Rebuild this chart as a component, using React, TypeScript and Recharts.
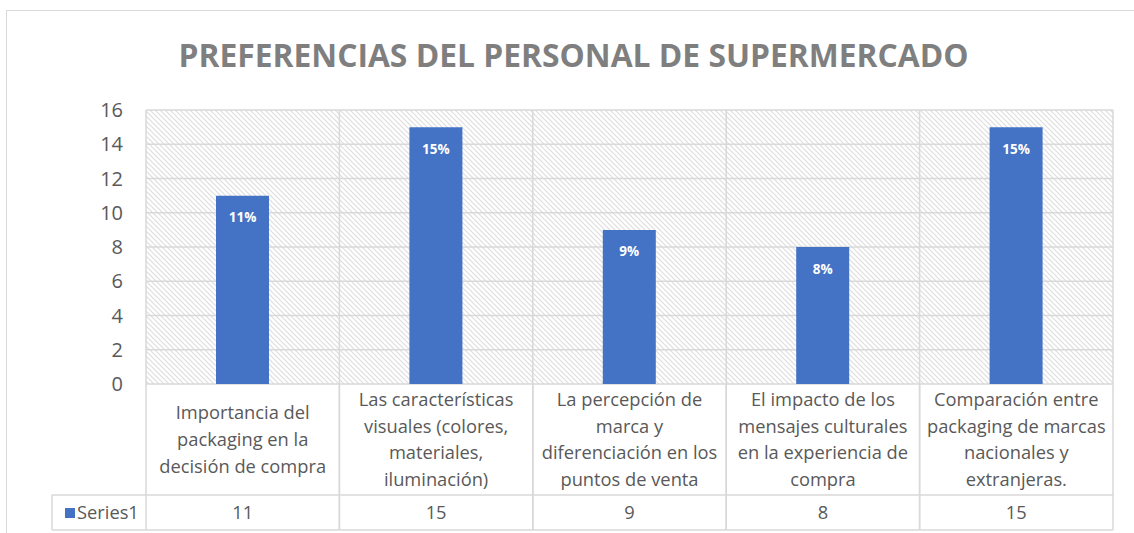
import React from 'react';
import { BarChart, Bar, XAxis, YAxis, CartesianGrid, LabelList } from 'recharts';

const categoryLines: string[][] = [
  ['Importancia del', 'packaging en la', 'decisión de compra'],
  ['Las características', 'visuales (colores,', 'materiales,', 'iluminación)'],
  ['La percepción de', 'marca y', 'diferenciación en los', 'puntos de venta'],
  ['El impacto de los', 'mensajes culturales', 'en la experiencia de', 'compra'],
  ['Comparación entre', 'packaging de marcas', 'nacionales y', 'extranjeras.'],
];
const seriesName = 'Series1';
const seriesValues = [11, 15, 9, 8, 15];
const yTicks = [0, 2, 4, 6, 8, 10, 12, 14, 16];
const title = 'PREFERENCIAS DEL PERSONAL DE SUPERMERCADO';

const data = categoryLines.map((lines, i) => ({
  name: lines.join(' '),
  value: seriesValues[i],
}));

// layout
const W = 1134;
const H = 533;
const PLOT_L = 146;
const PLOT_R = 1113;
const PLOT_T = 110;
const PLOT_B = 384;
const ROW1_B = 495;
const TABLE_B = 530;
const LEGEND_L = 52;
const CELL_W = (PLOT_R - PLOT_L) / categoryLines.length;

const FONT = '"Open Sans", sans-serif';
const GRID = '#d9d9d9';
const TEXT = '#595959';
const BLUE = '#4472c4';
const TABLE_FONT = 18.3;

const TableTick = (props: any) => {
  const { x, index } = props;
  const lines = categoryLines[index] || [];
  const lh = 26.6;
  const mid = (PLOT_B + ROW1_B) / 2;
  const first = mid - ((lines.length - 1) * lh) / 2;
  const left = x - CELL_W / 2;
  const right = x + CELL_W / 2;
  return (
    <g>
      {index === 0 && (
        <g>
          <line x1={LEGEND_L} x2={left} y1={ROW1_B} y2={ROW1_B} stroke={GRID} strokeWidth={1.5} />
          <line x1={LEGEND_L} x2={left} y1={TABLE_B} y2={TABLE_B} stroke={GRID} strokeWidth={1.5} />
          <line x1={LEGEND_L} x2={LEGEND_L} y1={ROW1_B} y2={TABLE_B} stroke={GRID} strokeWidth={1.5} />
          <rect x={65} y={508} width={10} height={10} fill={BLUE} />
          <text x={77} y={519} fontSize={TABLE_FONT} fill={TEXT} fontFamily={FONT}>
            {seriesName}
          </text>
        </g>
      )}
      <line x1={left} x2={left} y1={PLOT_B} y2={TABLE_B} stroke={GRID} strokeWidth={1.5} />
      <line x1={right} x2={right} y1={PLOT_B} y2={TABLE_B} stroke={GRID} strokeWidth={1.5} />
      <line x1={left} x2={right} y1={ROW1_B} y2={ROW1_B} stroke={GRID} strokeWidth={1.5} />
      <line x1={left} x2={right} y1={TABLE_B} y2={TABLE_B} stroke={GRID} strokeWidth={1.5} />
      {lines.map((l, i) => (
        <text
          key={i}
          x={x}
          y={first + i * lh}
          dy="0.35em"
          textAnchor="middle"
          fontSize={TABLE_FONT}
          fill={TEXT}
          fontFamily={FONT}
        >
          {l}
        </text>
      ))}
      <text x={x} y={512.5} dy="0.35em" textAnchor="middle" fontSize={TABLE_FONT} fill={TEXT} fontFamily={FONT}>
        {seriesValues[index]}
      </text>
    </g>
  );
};

export default function App() {
  return (
    <div style={{ position: 'absolute', left: 0, top: 0, width: W, height: H, overflow: 'hidden', background: '#fff' }}>
      <div
        style={{
          position: 'absolute',
          left: 6,
          top: 10,
          width: W + 20,
          height: H + 20,
          border: `1.5px solid ${GRID}`,
          boxSizing: 'border-box',
        }}
      />
      <svg width={W} height={100} style={{ position: 'absolute', left: 0, top: 0 }}>
        <text x={573.5} y={67} textAnchor="middle" fontSize={31.8} fontWeight="bold" fill="#7f7f7f" fontFamily={FONT}>
          {title}
        </text>
      </svg>
      <div style={{ position: 'absolute', left: 0, top: 0 }}>
        <BarChart
          width={W}
          height={H}
          data={data}
          margin={{ top: PLOT_T, right: W - PLOT_R, bottom: 0, left: 0 }}
        >
          <defs>
            <pattern id="hatch" patternUnits="userSpaceOnUse" width={5} height={5}>
              <rect width={5} height={5} fill="#ffffff" />
              <path d="M-1,-1 L6,6 M-1,4 L1,6 M4,-1 L6,1" stroke="#dedede" strokeWidth={1.2} />
            </pattern>
          </defs>
          <CartesianGrid
            fill="url(#hatch)"
            fillOpacity={1}
            stroke={GRID}
            strokeWidth={1.5}
            verticalCoordinatesGenerator={({ offset }: any) =>
              [0, 1, 2, 3, 4, 5].map((i) => offset.left + (i * offset.width) / categoryLines.length)
            }
          />
          <XAxis
            dataKey="name"
            height={H - PLOT_B}
            axisLine={false}
            tickLine={false}
            interval={0}
            tick={<TableTick />}
          />
          <YAxis
            width={PLOT_L}
            domain={[0, 16]}
            ticks={yTicks}
            axisLine={false}
            tickLine={false}
            tickSize={0}
            tickMargin={23}
            tick={{ fontSize: 20, fill: TEXT, fontFamily: FONT }}
          />
          <Bar dataKey="value" fill={BLUE} barSize={53} isAnimationActive={false}>
            <LabelList
              dataKey="value"
              position="insideTop"
              offset={17}
              formatter={(v: any) => `${v}%`}
              fill="#ffffff"
              fontSize={13.5}
              fontWeight="bold"
              fontFamily={FONT}
            />
          </Bar>
        </BarChart>
      </div>
    </div>
  );
}
